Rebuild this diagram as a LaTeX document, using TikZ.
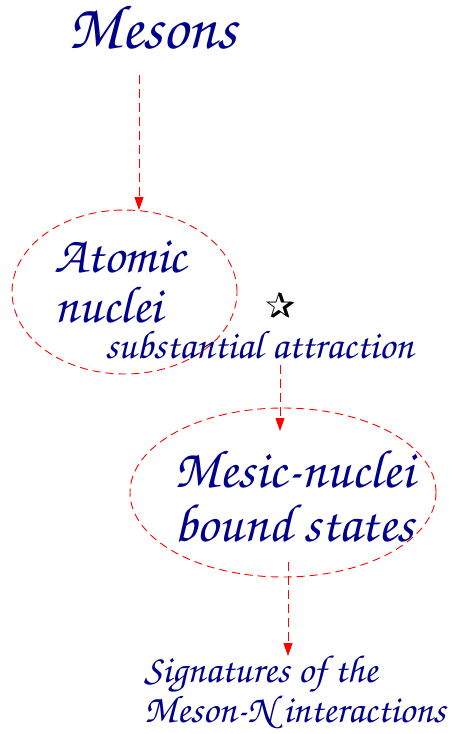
\documentclass[tikz,border=0pt]{standalone}
\usepackage[T1,TU]{fontenc}
\usepackage{fontspec}
\newfontfamily\dejavu{DejaVu Sans}
\usetikzlibrary{arrows.meta,shapes.geometric}
\newcommand\chancery{\fontencoding{T1}\fontfamily{pzc}\fontseries{mb}\fontshape{it}\selectfont}
\definecolor{navyblue}{RGB}{0,0,140}
\tikzset{
  lbl/.style={text=navyblue,inner sep=0pt,font=\chancery},
  oval/.style={draw=red,dash pattern=on 8pt off 5pt,line width=0.9pt,ellipse,inner sep=0pt},
  link/.style={draw=red,dash pattern=on 9pt off 5pt,line width=0.9pt,-{Triangle[length=13pt,width=9pt,fill=red]}},
}
\begin{document}
\begin{tikzpicture}[x=1pt,y=-1pt]
\useasboundingbox (0,0) rectangle (461,734);
\node[lbl,font=\chancery\fontsize{63}{63}\selectfont,anchor=base west] (mes) at (68,48) {Mesons};
\node[oval,minimum width=225pt,minimum height=164pt] (e1) at (124.5,292) {};
\node[lbl,font=\chancery\fontsize{52}{50}\selectfont,align=left,anchor=west] (atn) at (54,282) {Atomic\\nuclei};
\node[font=\dejavu\fontsize{36}{36}\selectfont,inner sep=0pt] (star) at (281,306) {✰};
\node[lbl,font=\chancery\fontsize{40}{40}\selectfont,anchor=base west] (sub) at (105,358) {substantial attraction};
\node[oval,minimum width=306pt,minimum height=169pt] (e2) at (283,492.5) {};
\node[lbl,font=\chancery\fontsize{54}{54}\selectfont,align=left,anchor=west] (msn) at (174,496) {Mesic-nuclei\\bound states};
\node[lbl,font=\chancery\fontsize{39}{40}\selectfont,align=left,anchor=west] (sig) at (144,692) {Signatures of the\\Meson-N interactions};
\coordinate (a1s) at (139,75);
\coordinate (a1e) at (139,210);
\coordinate (a2s) at (280,365);
\coordinate (a2e) at (280,431);
\coordinate (a3s) at (288,562);
\coordinate (a3e) at (288,656);
\draw[link] (a1s) -- (a1e);
\draw[link] (a2s) -- (a2e);
\draw[link] (a3s) -- (a3e);
\end{tikzpicture}
\end{document}
